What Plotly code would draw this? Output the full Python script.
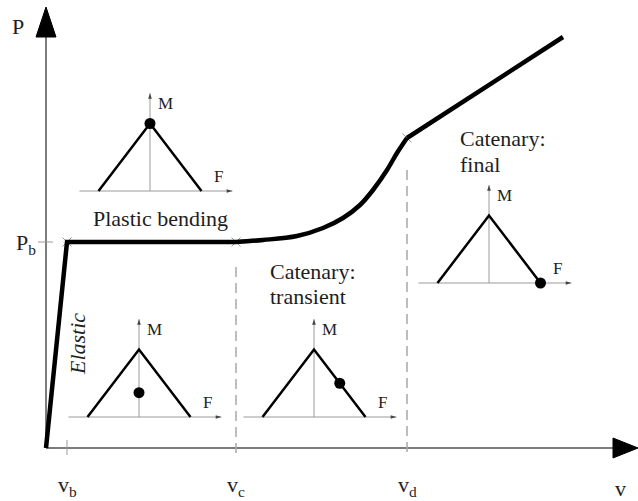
import plotly.graph_objects as go

# ---- P–v response of the member (arbitrary units) ----
# elastic branch + plastic plateau
v_plastic = [0.0, 0.21, 1.90]
P_plastic = [0.0, 2.06, 2.06]
# transient catenary stage
v_transient = [1.90, 2.17, 2.51, 2.77, 2.97, 3.14, 3.27, 3.41, 3.51, 3.61]
P_transient = [2.06, 2.08, 2.12, 2.20, 2.30, 2.43, 2.58, 2.78, 2.95, 3.10]
# final catenary stage
v_final = [3.61, 5.17]
P_final = [3.10, 4.11]

# stage boundaries
v_b, v_c, v_d = 0.21, 1.90, 3.61
P_b = 2.06
corner_v = [v_b, v_c, v_d]
corner_P = [2.06, 2.06, 3.10]

# axis extents
v_axis_end, P_axis_end = 5.92, 4.41

# ---- M–F interaction diagram (normalised) ----
F_tri = [-1.0, 0.0, 1.0]
M_tri = [0.0, 1.0, 0.0]
F_axis = [-1.37, 1.60]
M_axis = [0.0, 1.45]
# state point (F, M) of each stage
stage_names = ["plastic", "elastic", "transient", "final"]
stage_F = [0.0, 0.0, 0.5, 1.0]
stage_M = [1.0, 0.36, 0.5, 0.0]
# pixel anchor of each diagram origin
inset_anchor = [(150, 191), (139, 417), (314, 417), (489, 283)]

W, H = 638, 501
FONT = "Liberation Serif"
INK = "#1e1e1e"
AXIS_GREY = "#7c7c7c"
LIGHT = "#9a9a9a"

fig = go.Figure()

# main axes
fig.add_trace(go.Scatter(x=[0, v_axis_end - 0.2], y=[0, 0], mode="lines",
                         line=dict(color=AXIS_GREY, width=2), hoverinfo="skip"))
fig.add_trace(go.Scatter(x=[0, 0], y=[0, P_axis_end - 0.25], mode="lines",
                         line=dict(color=AXIS_GREY, width=2), hoverinfo="skip"))
# arrowheads
fig.add_trace(go.Scatter(x=[v_axis_end - 0.25, v_axis_end, v_axis_end - 0.25, v_axis_end - 0.25],
                         y=[0.10, 0, -0.10, 0.10], mode="lines", fill="toself",
                         fillcolor="black", line=dict(color="black", width=1), hoverinfo="skip"))
fig.add_trace(go.Scatter(x=[-0.10, 0, 0.10, -0.10],
                         y=[P_axis_end - 0.30, P_axis_end, P_axis_end - 0.30, P_axis_end - 0.30],
                         mode="lines", fill="toself",
                         fillcolor="black", line=dict(color="black", width=1), hoverinfo="skip"))

# ticks
fig.add_trace(go.Scatter(x=[-0.08, 0.07], y=[P_b, P_b], mode="lines",
                         line=dict(color=LIGHT, width=1), hoverinfo="skip"))
fig.add_trace(go.Scatter(x=[v_b, v_b], y=[0.08, -0.07], mode="lines",
                         line=dict(color=LIGHT, width=1), hoverinfo="skip"))
# stage boundaries
fig.add_trace(go.Scatter(x=[v_c, v_c], y=[1.81, -0.07], mode="lines",
                         line=dict(color="#a8a8a8", width=1.5, dash="10px,6px"), hoverinfo="skip"))
fig.add_trace(go.Scatter(x=[v_d, v_d], y=[2.78, -0.07], mode="lines",
                         line=dict(color="#a8a8a8", width=1.5, dash="10px,6px"), hoverinfo="skip"))

# corner marks
fig.add_trace(go.Scatter(x=corner_v, y=corner_P, mode="markers",
                         marker=dict(symbol="x-thin", size=9, line=dict(color=LIGHT, width=1)),
                         hoverinfo="skip"))

# response curve
curve_line = dict(color="black", width=4.5)
fig.add_trace(go.Scatter(x=v_plastic, y=P_plastic, mode="lines", line=curve_line, hoverinfo="skip"))
fig.add_trace(go.Scatter(x=v_transient, y=P_transient, mode="lines",
                         line=dict(color="black", width=4.5, shape="spline"), hoverinfo="skip"))
fig.add_trace(go.Scatter(x=v_final, y=P_final, mode="lines", line=curve_line, hoverinfo="skip"))

# ---- inset interaction diagrams ----
sx, sy = 51.5, 67.5
F_range = [-1.6, 1.8]
M_range = [-0.3, 1.7]
layout_axes = {}
for i, (X0, Y0) in enumerate(inset_anchor):
    n = i + 2
    xa, ya = f"x{n}", f"y{n}"
    layout_axes[f"xaxis{n}"] = dict(
        domain=[(X0 + F_range[0] * sx) / W, (X0 + F_range[1] * sx) / W],
        range=F_range, anchor=ya, visible=False, fixedrange=True)
    layout_axes[f"yaxis{n}"] = dict(
        domain=[1 - (Y0 - M_range[0] * sy) / H, 1 - (Y0 - M_range[1] * sy) / H],
        range=M_range, anchor=xa, visible=False, fixedrange=True)
    # F and M axes
    fig.add_trace(go.Scatter(x=F_axis, y=[0, 0], xaxis=xa, yaxis=ya, mode="lines",
                             line=dict(color=LIGHT, width=1), hoverinfo="skip"))
    fig.add_trace(go.Scatter(x=[0, 0], y=M_axis, xaxis=xa, yaxis=ya, mode="lines",
                             line=dict(color=LIGHT, width=1), hoverinfo="skip"))
    # arrowheads at the axis tips
    fig.add_trace(go.Scatter(x=[F_axis[1], 0], y=[0, M_axis[1]], xaxis=xa, yaxis=ya,
                             mode="markers",
                             marker=dict(symbol="arrow", angle=[90, 0], size=6, color="#444"),
                             hoverinfo="skip"))
    # interaction envelope
    fig.add_trace(go.Scatter(x=F_tri, y=M_tri, xaxis=xa, yaxis=ya, mode="lines",
                             line=dict(color="black", width=2.5), hoverinfo="skip"))
    # current state
    fig.add_trace(go.Scatter(x=[stage_F[i]], y=[stage_M[i]], xaxis=xa, yaxis=ya, mode="markers",
                             marker=dict(color="black", size=11), hoverinfo="skip"))

annotations = []


def label(text, x, y, size=22, xref="x", yref="y", xanchor="center", yanchor="middle", **kw):
    annotations.append(dict(text=text, x=x, y=y, xref=xref, yref=yref, showarrow=False,
                            xanchor=xanchor, yanchor=yanchor,
                            font=dict(family=FONT, size=size, color=INK), **kw))


# axis labels
label("P", -0.28, 4.22)
label("P<sub>b</sub>", -0.20, 2.04)
label("v<sub>b</sub>", v_b, -0.38)
label("v<sub>c</sub>", v_c, -0.38)
label("v<sub>d</sub>", v_d, -0.38)
label("v", 5.74, -0.40)

# stage labels
label("Plastic bending", 1.14, 2.30)
label("<i>Elastic</i>", 0.31, 1.04, textangle=-90)
label("Catenary:", 2.22, 1.77, xanchor="left")
label("transient", 2.22, 1.52, xanchor="left")
label("Catenary:", 4.12, 3.10, xanchor="left")
label("final", 4.12, 2.84, xanchor="left")

# M / F labels on each inset
for i in range(len(inset_anchor)):
    n = i + 2
    label("M", 0.31, 1.30, size=17, xref=f"x{n}", yref=f"y{n}")
    label("F", 1.33, 0.21, size=17, xref=f"x{n}", yref=f"y{n}")

fig.update_layout(
    width=W, height=H,
    margin=dict(l=0, r=0, t=0, b=0),
    paper_bgcolor="white", plot_bgcolor="rgba(0,0,0,0)",
    showlegend=False,
    xaxis=dict(range=[-0.46, 5.92], visible=False, fixedrange=True, domain=[0, 1]),
    yaxis=dict(range=[-0.53, 4.48], visible=False, fixedrange=True, domain=[0, 1]),
    annotations=annotations,
    **layout_axes,
)

fig.write_html("out.html")
